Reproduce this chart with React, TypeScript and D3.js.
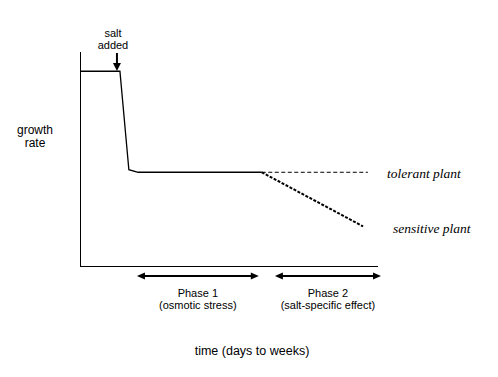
import React from "react";
import * as d3 from "d3";

const W = 498;
const H = 377;

// growth-rate curve (arbitrary units: time 0..10, growth 0..10)
const baseTimes = [0, 1.34, 1.64, 1.95, 6.1];
const baseGrowth = [9.1, 9.1, 4.5, 4.38, 4.38];
const tolerantTimes = [6.1, 9.66];
const tolerantGrowth = [4.38, 4.38];
const sensitiveTimes = [6.1, 9.5];
const sensitiveGrowth = [4.38, 1.85];

const saltTime = 1.24;
const phaseNames = ["Phase 1", "Phase 2"];
const phaseNotes = ["(osmotic stress)", "(salt-specific effect)"];
const phaseStart = [1.91, 6.54];
const phaseEnd = [6.0, 10.1];

const seriesLabels = ["tolerant plant", "sensitive plant"];

export default function App() {
  const x = d3.scaleLinear().domain([0, 10]).range([80, 378]);
  const y = d3.scaleLinear().domain([0, 10]).range([266, 52]);
  const line = d3
    .line<[number, number]>()
    .x((d) => x(d[0]))
    .y((d) => y(d[1]));
  const zip = (a: number[], b: number[]) => a.map((v, i) => [v, b[i]] as [number, number]);

  const sans = "'Liberation Sans', Arial, sans-serif";
  const serif = "'Liberation Serif', 'Times New Roman', serif";

  const arrowH = (x1: number, x2: number, yy: number, key: string) => (
    <g key={key}>
      <line x1={x1 + 6} x2={x2 - 6} y1={yy} y2={yy} stroke="#000" strokeWidth={2} />
      <path d={`M${x1},${yy} L${x1 + 8},${yy - 3.5} L${x1 + 8},${yy + 3.5} Z`} fill="#000" />
      <path d={`M${x2},${yy} L${x2 - 8},${yy - 3.5} L${x2 - 8},${yy + 3.5} Z`} fill="#000" />
    </g>
  );

  return (
    <svg
      width={W}
      height={H}
      style={{ position: "absolute", left: 0, top: 0, background: "#fff" }}
    >
      {/* axes */}
      <line x1={80.5} x2={80.5} y1={52} y2={267} stroke="#000" strokeWidth={1} />
      <line x1={80} x2={378} y1={266.5} y2={266.5} stroke="#000" strokeWidth={1} />

      {/* curves */}
      <path d={line(zip(baseTimes, baseGrowth)) || ""} fill="none" stroke="#000" strokeWidth={1.3} />
      <path
        d={line(zip(tolerantTimes, tolerantGrowth)) || ""}
        fill="none"
        stroke="#000"
        strokeWidth={1}
        strokeDasharray="4,2.5"
      />
      <path
        d={line(zip(sensitiveTimes, sensitiveGrowth)) || ""}
        fill="none"
        stroke="#000"
        strokeWidth={2}
        strokeDasharray="3,1.5"
      />

      {/* series labels */}
      <text x={387} y={178} fontFamily={serif} fontStyle="italic" fontSize={13.5}>
        {seriesLabels[0]}
      </text>
      <text x={393} y={233} fontFamily={serif} fontStyle="italic" fontSize={13.5}>
        {seriesLabels[1]}
      </text>

      {/* salt added */}
      <text x={x(saltTime) - 4} y={37} textAnchor="middle" fontFamily={sans} fontSize={11}>
        salt
      </text>
      <text x={x(saltTime) - 4} y={49} textAnchor="middle" fontFamily={sans} fontSize={11}>
        added
      </text>
      <line x1={x(saltTime)} x2={x(saltTime)} y1={53} y2={64} stroke="#000" strokeWidth={2} />
      <path
        d={`M${x(saltTime)},${71} L${x(saltTime) - 4},${63} L${x(saltTime) + 4},${63} Z`}
        fill="#000"
      />

      {/* phase arrows */}
      {phaseNames.map((p, i) => {
        const x1 = x(phaseStart[i]);
        const x2 = x(phaseEnd[i]);
        const cx = (x1 + x2) / 2;
        return (
          <g key={p}>
            {arrowH(x1, x2, 276, "a" + i)}
            <text x={cx} y={297} textAnchor="middle" fontFamily={sans} fontSize={11}>
              {p}
            </text>
            <text x={cx} y={309} textAnchor="middle" fontFamily={sans} fontSize={11}>
              {phaseNotes[i]}
            </text>
          </g>
        );
      })}

      {/* axis titles */}
      <text x={35} y={134} textAnchor="middle" fontFamily={sans} fontSize={12}>
        growth
      </text>
      <text x={35} y={147} textAnchor="middle" fontFamily={sans} fontSize={12}>
        rate
      </text>
      <text x={252} y={355} textAnchor="middle" fontFamily={sans} fontSize={12.5}>
        time (days to weeks)
      </text>
    </svg>
  );
}
